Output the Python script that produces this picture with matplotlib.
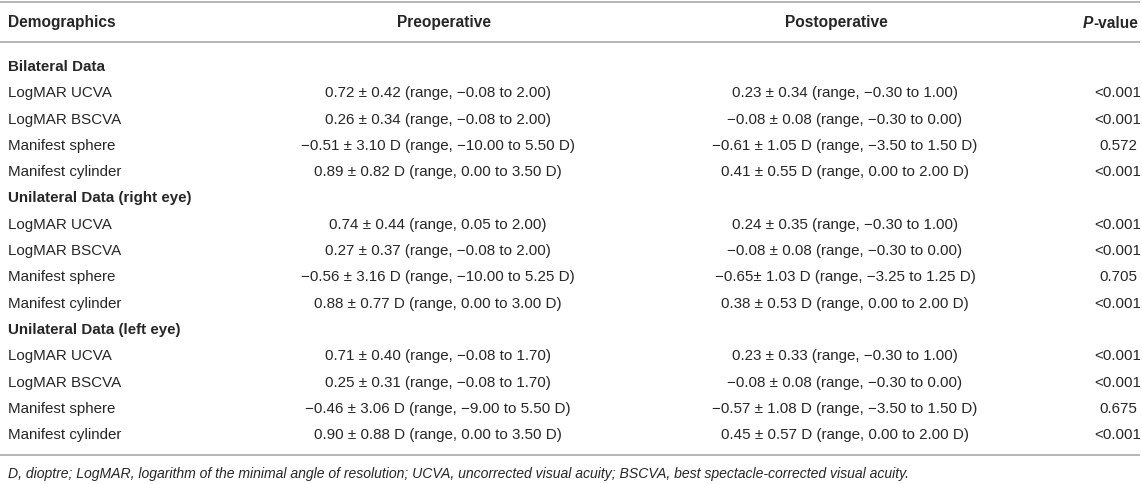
import matplotlib
matplotlib.use("Agg")
import matplotlib.pyplot as plt
from matplotlib.lines import Line2D

W, H = 1142, 485
plt.rcParams['font.family'] = ['Liberation Sans', 'DejaVu Sans']

headers = ["Demographics", "Preoperative", "Postoperative", "P", "-value"]

sections = ["Bilateral Data", "Unilateral Data (right eye)", "Unilateral Data (left eye)"]
row_labels = ["LogMAR UCVA", "LogMAR BSCVA", "Manifest sphere", "Manifest cylinder"]

preop = [
    ["0.72 ± 0.42 (range, −0.08 to 2.00)",
     "0.26 ± 0.34 (range, −0.08 to 2.00)",
     "−0.51 ± 3.10 D (range, −10.00 to 5.50 D)",
     "0.89 ± 0.82 D (range, 0.00 to 3.50 D)"],
    ["0.74 ± 0.44 (range, 0.05 to 2.00)",
     "0.27 ± 0.37 (range, −0.08 to 2.00)",
     "−0.56 ± 3.16 D (range, −10.00 to 5.25 D)",
     "0.88 ± 0.77 D (range, 0.00 to 3.00 D)"],
    ["0.71 ± 0.40 (range, −0.08 to 1.70)",
     "0.25 ± 0.31 (range, −0.08 to 1.70)",
     "−0.46 ± 3.06 D (range, −9.00 to 5.50 D)",
     "0.90 ± 0.88 D (range, 0.00 to 3.50 D)"],
]
postop = [
    ["0.23 ± 0.34 (range, −0.30 to 1.00)",
     "−0.08 ± 0.08 (range, −0.30 to 0.00)",
     "−0.61 ± 1.05 D (range, −3.50 to 1.50 D)",
     "0.41 ± 0.55 D (range, 0.00 to 2.00 D)"],
    ["0.24 ± 0.35 (range, −0.30 to 1.00)",
     "−0.08 ± 0.08 (range, −0.30 to 0.00)",
     "−0.65± 1.03 D (range, −3.25 to 1.25 D)",
     "0.38 ± 0.53 D (range, 0.00 to 2.00 D)"],
    ["0.23 ± 0.33 (range, −0.30 to 1.00)",
     "−0.08 ± 0.08 (range, −0.30 to 0.00)",
     "−0.57 ± 1.08 D (range, −3.50 to 1.50 D)",
     "0.45 ± 0.57 D (range, 0.00 to 2.00 D)"],
]
pvals = [
    ["<0.001", "<0.001", "0.572", "<0.001"],
    ["<0.001", "<0.001", "0.705", "<0.001"],
    ["<0.001", "<0.001", "0.675", "<0.001"],
]
footnote = ("D, dioptre; LogMAR, logarithm of the minimal angle of resolution; "
            "UCVA, uncorrected visual acuity; BSCVA, best spectacle-corrected visual acuity.")

fig = plt.figure(figsize=(W / 100, H / 100), dpi=100)
fig.patch.set_facecolor("white")

def fx(x):
    return x / W

def fy(y):
    return 1 - y / H

TXT = "#262626"
LINE = "#b0b0b0"
FS = 10.9
FS_H = 11.2

def hline(y):
    fig.add_artist(Line2D([fx(0), fx(1139)], [fy(y), fy(y)], color=LINE, lw=1.3))

hline(3.3)
hline(43.3)
hline(456)

X_LABEL = 8
X_PRE = 438
X_POST = 845
X_PRE_HDR = 444
X_POST_HDR = 836
X_P = 1118
X_P_HDR = 1138

yh = 23
fig.text(fx(X_LABEL), fy(yh), headers[0], ha="left", va="center", fontsize=FS_H, fontweight="bold", color=TXT)
fig.text(fx(X_PRE_HDR), fy(yh), headers[1], ha="center", va="center", fontsize=FS_H, fontweight="bold", color=TXT)
fig.text(fx(X_POST_HDR), fy(yh), headers[2], ha="center", va="center", fontsize=FS_H, fontweight="bold", color=TXT)
tv = fig.text(fx(X_P_HDR), fy(yh), headers[4], ha="right", va="center",
              fontsize=FS_H, fontweight="bold", color=TXT)
fig.canvas.draw()
bb = tv.get_window_extent(renderer=fig.canvas.get_renderer())
fig.text(bb.x0 / fig.bbox.width, fy(yh), headers[3], ha="right", va="center",
         fontsize=FS_H, fontweight="bold", style="italic", color=TXT)

y0 = 67.0
dy = 26.3
row = 0
for s, sec in enumerate(sections):
    y = y0 + row * dy
    fig.text(fx(X_LABEL), fy(y), sec, ha="left", va="center", fontsize=FS, fontweight="bold", color=TXT)
    row += 1
    for r, lab in enumerate(row_labels):
        y = y0 + row * dy
        fig.text(fx(X_LABEL), fy(y), lab, ha="left", va="center", fontsize=FS, color=TXT)
        fig.text(fx(X_PRE), fy(y), preop[s][r], ha="center", va="center", fontsize=FS, color=TXT)
        fig.text(fx(X_POST), fy(y), postop[s][r], ha="center", va="center", fontsize=FS, color=TXT)
        fig.text(fx(X_P), fy(y), pvals[s][r], ha="center", va="center", fontsize=FS, color=TXT)
        row += 1

fig.text(fx(X_LABEL), fy(474), footnote, ha="left", va="center", fontsize=10.1,
         style="italic", color=TXT)

fig.savefig("out.png", dpi=100, facecolor="white")
